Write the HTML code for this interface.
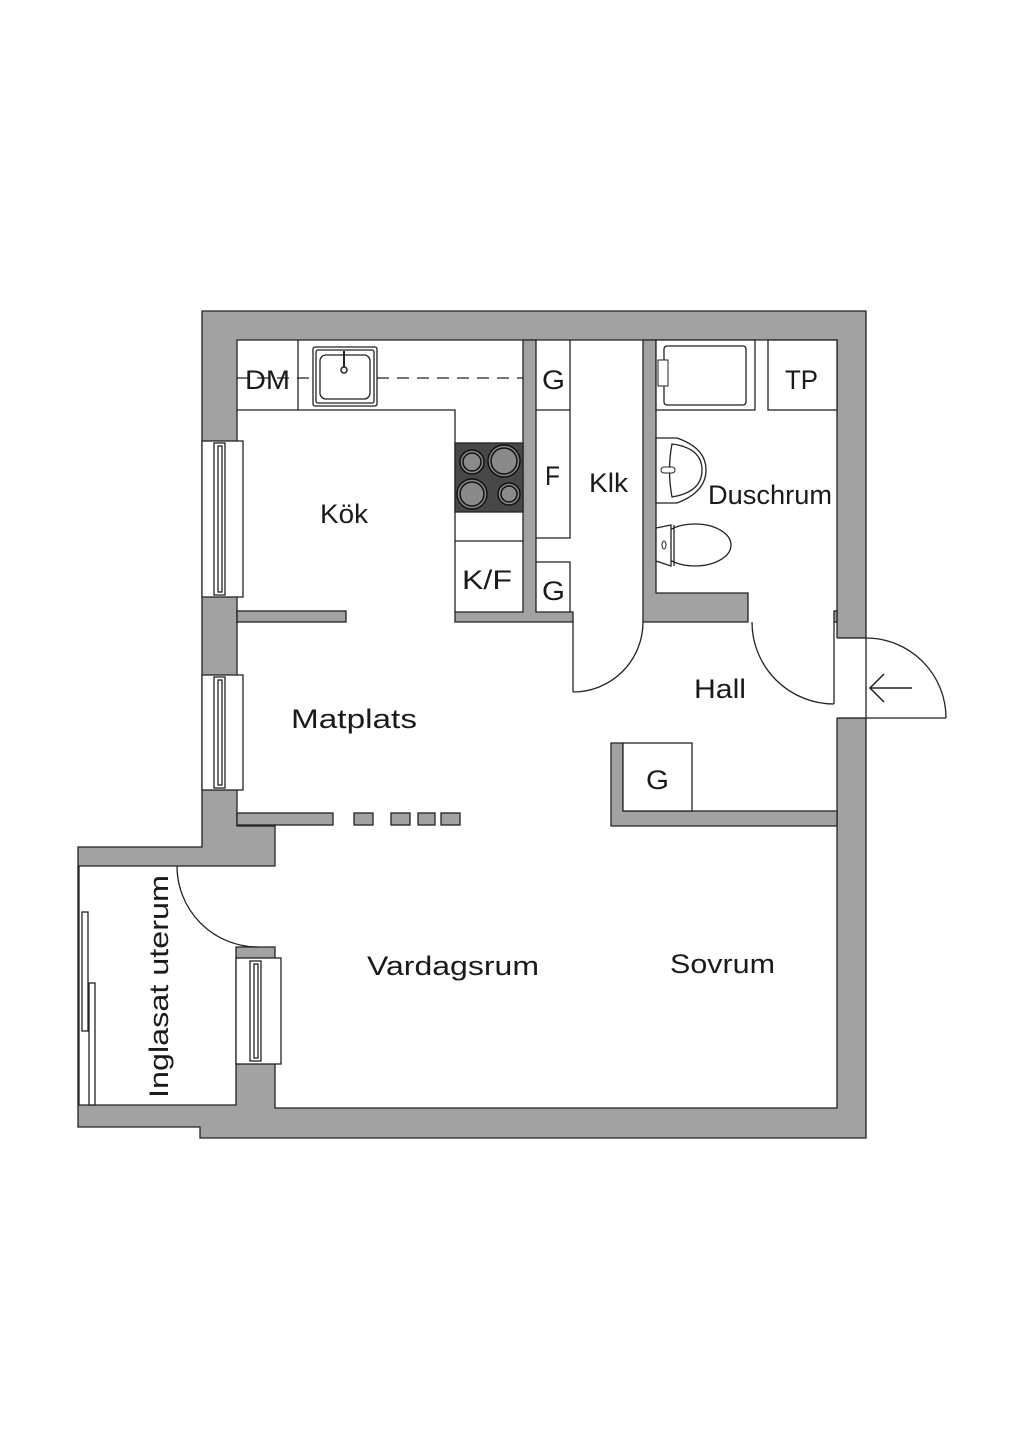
<!DOCTYPE html>
<html><head><meta charset="utf-8"><style>
html,body{margin:0;padding:0;background:#fff;}
svg{display:block;}
text{font-family:"Liberation Sans",sans-serif;fill:#1a1a1a;}
</style></head><body>
<svg width="1024" height="1448" viewBox="0 0 1024 1448" xmlns="http://www.w3.org/2000/svg">
<rect width="1024" height="1448" fill="#fff"/>
<g stroke="#222" stroke-width="1.3" stroke-linejoin="miter">
<polygon fill="#a2a2a2" points="202,311 866,311 866,638 837,638 837,718 866,718 866,1138 200,1138 200,1127 78,1127 78,847 202,847"/>
<polygon fill="#fff" points="237,340 837,340 837,1108 275,1108 275,947 236,947 236,1105 79,1105 79,866 275,866 275,826 237,826"/>
<rect x="836" y="638" width="31" height="80" fill="#fff" stroke="none"/>
<line x1="837" y1="638" x2="866" y2="638"/>
<line x1="837" y1="718" x2="946" y2="718"/>
<line x1="866" y1="638" x2="866" y2="718"/>
<path d="M866,638 A80,80 0 0 1 946,718" fill="none"/>
<path d="M912,688 L870,688 M884,674 L870,688 L884,702" fill="none" stroke-width="1.5"/>
<polygon fill="#a2a2a2" points="523,340 536,340 536,612 573,612 573,622 455,622 455,612 523,612"/>
<polygon fill="#a2a2a2" points="643,340 656,340 656,593 748,593 748,622 643,622"/>
<rect x="834" y="611" width="3" height="11" fill="#a2a2a2"/>
<rect x="237" y="611" width="109" height="11" fill="#a2a2a2"/>
<rect x="237" y="813" width="96" height="12" fill="#a2a2a2"/>
<rect x="354" y="813" width="19" height="12" fill="#a2a2a2"/>
<rect x="391" y="813" width="19" height="12" fill="#a2a2a2"/>
<rect x="418" y="813" width="17" height="12" fill="#a2a2a2"/>
<rect x="441" y="813" width="19" height="12" fill="#a2a2a2"/>
<polygon fill="#a2a2a2" points="611,743 623,743 623,811 837,811 837,826 611,826"/>
<rect x="623" y="743" width="69" height="68" fill="#fff"/>
<rect x="202" y="441" width="41" height="156" fill="#fff"/>
<rect x="214" y="443" width="11" height="152" fill="#fff"/>
<rect x="218" y="446" width="4" height="146" fill="#fff"/>
<rect x="202" y="675" width="41" height="115" fill="#fff"/>
<rect x="214" y="677" width="11" height="111" fill="#fff"/>
<rect x="218" y="680" width="4" height="105" fill="#fff"/>
<rect x="236" y="958" width="45" height="106" fill="#fff"/>
<rect x="250" y="961" width="11" height="100" fill="#fff"/>
<rect x="254" y="964" width="4" height="94" fill="#fff"/>
<rect x="82" y="912" width="6" height="119" fill="#fff"/>
<rect x="89" y="983" width="6" height="122" fill="#fff"/>
<path d="M177,866 A81,81 0 0 0 258,947" fill="none"/>
<polyline points="237,410 455,410 455,612" fill="none"/>
<line x1="298" y1="340" x2="298" y2="410"/>
<line x1="237" y1="378" x2="523" y2="378" stroke-dasharray="12,8"/>
<rect x="313" y="347" width="64" height="59" rx="2" fill="#fff"/>
<rect x="316" y="350" width="58" height="53" rx="2" fill="none"/>
<rect x="320" y="355" width="50" height="44" rx="6" fill="none"/>
<line x1="344" y1="351" x2="344" y2="369" stroke-width="2"/>
<circle cx="344" cy="370" r="3" fill="#fff" stroke-width="1.5"/>
<rect x="455" y="443" width="68" height="69" fill="#484848"/>
<g fill="#8a8a8a" stroke="#111" stroke-width="1.5">
<circle cx="472" cy="462" r="12"/><circle cx="472" cy="462" r="9" fill="none"/>
<circle cx="504" cy="461" r="16"/><circle cx="504" cy="461" r="13" fill="none"/>
<circle cx="472" cy="494" r="15"/><circle cx="472" cy="494" r="12" fill="none"/>
<circle cx="509" cy="494" r="11"/><circle cx="509" cy="494" r="8" fill="none"/>
</g>
<line x1="455" y1="541" x2="523" y2="541"/>
<polyline points="570,340 570,538 536,538" fill="none"/>
<line x1="536" y1="410" x2="570" y2="410"/>
<polyline points="536,562 570,562 570,612" fill="none"/>
<line x1="573" y1="622" x2="573" y2="692"/>
<path d="M573,692 A70,70 0 0 0 643,622" fill="none"/>
<line x1="834" y1="622" x2="834" y2="704"/>
<path d="M834,704 A82,82 0 0 1 752,622" fill="none"/>
<rect x="656" y="340" width="99" height="70" fill="#fff"/>
<rect x="664" y="346" width="82" height="59" rx="3" fill="none"/>
<rect x="658" y="360" width="10" height="26" fill="#fff" stroke-width="1"/>
<rect x="768" y="340" width="69" height="70" fill="#fff"/>
<path d="M656,438 L677,438 Q706,448 706,470 Q706,492 677,503 L656,503 Z" fill="#fff"/>
<path d="M672,444 Q702,448 702,470 Q702,492 672,497 Q667,470 672,444 Z" fill="none"/>
<rect x="661" y="467" width="14" height="6" rx="3" fill="#fff" stroke-width="1"/>
<ellipse cx="695" cy="545" rx="36" ry="21" fill="#fff"/>
<path d="M671,525 L656,528 L656,561 L671,566 Z" fill="#fff"/>
<line x1="674" y1="525" x2="674" y2="566"/>
<ellipse cx="664" cy="545" rx="2" ry="4" fill="none" stroke-width="1"/>
</g>
<g font-size="27" lengthAdjust="spacingAndGlyphs">
<text x="245" y="389" textLength="45" lengthAdjust="spacingAndGlyphs">DM</text>
<text x="542" y="389" textLength="23" lengthAdjust="spacingAndGlyphs">G</text>
<text x="785" y="389" textLength="33" lengthAdjust="spacingAndGlyphs">TP</text>
<text x="545" y="485" textLength="15" lengthAdjust="spacingAndGlyphs">F</text>
<text x="589" y="492" textLength="39" lengthAdjust="spacingAndGlyphs">Klk</text>
<text x="708" y="504" textLength="124" lengthAdjust="spacingAndGlyphs">Duschrum</text>
<text x="320" y="523" textLength="48" lengthAdjust="spacingAndGlyphs">Kök</text>
<text x="462" y="589" textLength="50" lengthAdjust="spacingAndGlyphs">K/F</text>
<text x="542" y="600" textLength="23" lengthAdjust="spacingAndGlyphs">G</text>
<text x="694" y="698" textLength="52" lengthAdjust="spacingAndGlyphs">Hall</text>
<text x="291" y="728" textLength="126" lengthAdjust="spacingAndGlyphs">Matplats</text>
<text x="646" y="789" textLength="23" lengthAdjust="spacingAndGlyphs">G</text>
<text x="367" y="975" textLength="172" lengthAdjust="spacingAndGlyphs">Vardagsrum</text>
<text x="670" y="973" textLength="105" lengthAdjust="spacingAndGlyphs">Sovrum</text>
<text transform="translate(168,1098) rotate(-90)" textLength="223" lengthAdjust="spacingAndGlyphs">Inglasat uterum</text>
</g>
</svg>
</body></html>
